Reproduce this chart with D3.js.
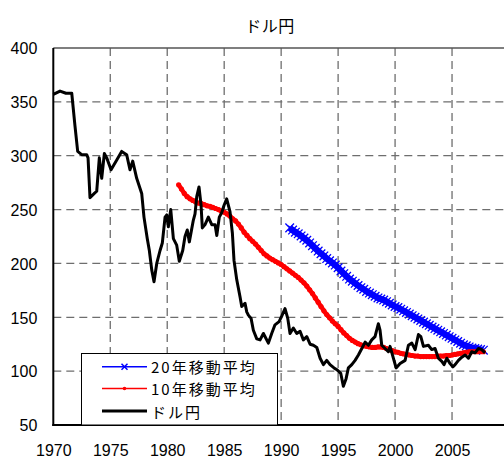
<!DOCTYPE html>
<html><head><meta charset="utf-8">
<script src="https://cdn.jsdelivr.net/npm/d3@7"></script>
<style>
html,body{margin:0;padding:0;background:#fff;overflow:hidden;}
svg{display:block;}
</style></head>
<body>
<svg id="chart" width="504" height="459"></svg>
<script>
// ---- data ----
const title = "ドル円";
const seriesNames = ["20年移動平均", "10年移動平均", "ドル円"];
const xTicks = [1970, 1975, 1980, 1985, 1990, 1995, 2000, 2005];
const yTicks = [50, 100, 150, 200, 250, 300, 350, 400];

// USD/JPY (decimal year, yen)
const usdJpyYears = [1970.0,1970.59,1971.11,1971.62,1971.9,1972.14,1972.49,1972.93,1973.05,1973.22,1973.6,1973.81,1974.04,1974.25,1974.48,1974.69,1975.07,1975.57,1976.0,1976.44,1976.73,1976.97,1977.32,1977.76,1977.96,1978.25,1978.43,1978.64,1978.84,1979.08,1979.37,1979.57,1979.81,1979.96,1980.1,1980.31,1980.54,1980.83,1981.06,1981.36,1981.56,1981.76,1981.94,1982.29,1982.44,1982.59,1982.79,1982.97,1983.08,1983.32,1983.61,1983.91,1984.2,1984.35,1984.57,1984.78,1984.99,1985.22,1985.51,1985.72,1985.86,1986.1,1986.39,1986.54,1986.83,1986.98,1987.12,1987.36,1987.56,1987.86,1988.15,1988.44,1988.59,1988.88,1989.17,1989.46,1989.82,1990.05,1990.34,1990.58,1990.78,1991.07,1991.37,1991.66,1991.95,1992.25,1992.54,1992.83,1993.13,1993.42,1993.71,1994.0,1994.29,1994.64,1994.93,1995.23,1995.46,1995.7,1995.9,1996.2,1996.49,1996.78,1997.08,1997.37,1997.66,1997.95,1998.24,1998.53,1998.68,1998.83,1999.12,1999.41,1999.56,1999.85,2000.09,2000.44,2000.88,2001.17,2001.47,2001.76,2002.05,2002.26,2002.49,2002.92,2003.22,2003.51,2003.8,2004.1,2004.3,2004.54,2004.83,2005.07,2005.27,2005.56,2005.86,2006.15,2006.44,2006.73,2007.02,2007.32,2007.61,2007.9];
const usdJpyValues = [357,360,358,358,328,304,301,301,298,261,265,267,298,279,302,298,287,296,304,301,287,295,279,265,243,223,212,194,183,200,212,219,243,245,234,250,223,217,202,212,225,231,220,240,246,262,271,254,233,236,243,236,236,226,243,247,254,260,248,228,203,185,169,160,163,155,152,149,138,130,129,135,132,126,135,143,146,151,158,149,135,140,135,137,129,132,125,124,122,112,106,110,106,103,101,98,86,93,103,106,110,115,121,127,124,129,132,144,138,124,121,118,123,112,103,107,110,124,126,120,134,132,123,124,120,121,112,109,106,112,107,104,106,110,113,115,112,118,117,121,120,117];

// 10-year moving average, quarterly from 1981.0
const ma10Start = 1981.0;
const ma10Values = [273,269,265,262,260,258.5,257,256,255.5,254.5,253.5,253,252,251,250,248.5,247.5,246,244,241.5,239.5,236.5,233,229,226,223,220.5,218,215,212,209,207,205,203.5,202,200.5,199,197,195,193,191,189,187,184.5,182,179,175.5,172,168,164,160,156,152.5,149.5,146.5,144,141.5,138.5,135.5,133,130.5,128.5,127,125.5,124.5,123.5,123,122.5,122,122,122.5,122.5,122,121,120,119,118,117.5,116.5,116,115.5,115,114.5,114,114,113.5,113.5,113.5,113.5,113.5,113.5,114,114,114,114.5,114.5,115,115.5,116,116.5,117,117.5,118,118,118,118,118,118];

// 20-year moving average, quarterly from 1990.75
const ma20Start = 1990.75;
const ma20Values = [233,231,229,227.5,225.5,223.5,221.5,219,216.5,214,211.5,209,207,204.5,202.5,200.5,198.5,196,193,190.5,188,185.5,183.5,181.5,179.5,177.5,176,174,172.5,171,169.5,168,167,166,164.5,163,161.5,160,159,157.5,156,154.5,153,151.5,150,148.5,147,145.5,144,142.5,141,139.5,138,136.5,135,133.5,132,130.5,129,127.5,126,124.5,123.5,122.5,121.5,121,120.5,120,119.5];
const maStep = 0.25;

// ---- layout ----
const svg = d3.select("#chart");
const x = d3.scaleLinear().domain([1970, 2010]).range([53.3, 509]);
const y = d3.scaleLinear().domain([50, 400]).range([425, 48]);
const fontNum = "'Liberation Sans', Arial, sans-serif";
const fontJp = "'Noto Sans CJK JP', sans-serif";

// title
svg.append("text").attr("x", 270).attr("y", 24.5).attr("text-anchor", "middle")
  .attr("dominant-baseline", "central").attr("font-family", fontJp).attr("font-size", 16)
  .attr("letter-spacing", 0.5).attr("fill", "#000").text(title);

// gridlines
const grid = svg.append("g").attr("stroke", "#6e6e6e").attr("stroke-width", 1.3)
  .attr("stroke-dasharray", "8,5");
grid.selectAll("line.v").data(xTicks.slice(1)).join("line").attr("class", "v")
  .attr("x1", d => x(d)).attr("x2", d => x(d)).attr("y1", y(400)).attr("y2", y(50));
grid.selectAll("line.h").data(yTicks.filter(d => d > 50 && d < 400)).join("line").attr("class", "h")
  .attr("x1", x(1970)).attr("x2", 504).attr("y1", d => y(d)).attr("y2", d => y(d));

// top frame
svg.append("line").attr("x1", x(1970)).attr("x2", 504).attr("y1", y(400)).attr("y2", y(400))
  .attr("stroke", "#555").attr("stroke-width", 1.3);

// axes
const yAxis = d3.axisLeft(y).tickValues(yTicks).tickSize(0).tickPadding(16);
const gy = svg.append("g").attr("transform", `translate(${x(1970)},0)`).call(yAxis);
gy.select(".domain").remove();
gy.selectAll("text").attr("font-family", fontNum).attr("font-size", 16).attr("fill", "#000").attr("dy", "0.36em");

const xAxis = d3.axisBottom(x).tickValues(xTicks).tickFormat(d3.format("d")).tickSize(0).tickPadding(20);
const gx = svg.append("g").attr("transform", `translate(0,${y(50)})`).call(xAxis);
gx.select(".domain").remove();
gx.selectAll("text").attr("font-family", fontNum).attr("font-size", 16).attr("fill", "#000").attr("dy", "0.71em");

svg.append("line").attr("x1", x(1970)).attr("x2", x(1970)).attr("y1", y(400)).attr("y2", y(50) + 1)
  .attr("stroke", "#000").attr("stroke-width", 2);
svg.append("line").attr("x1", x(1970) - 1).attr("x2", 504).attr("y1", y(50)).attr("y2", y(50))
  .attr("stroke", "#000").attr("stroke-width", 2);

// series data
const ma20 = ma20Values.map((v, i) => [ma20Start + i * maStep, v]);
const ma10 = ma10Values.map((v, i) => [ma10Start + i * maStep, v]);
const fx = usdJpyYears.map((t, i) => [t, usdJpyValues[i]]);
const line = d3.line().x(d => x(d[0])).y(d => y(d[1]));

// 20-year MA (blue, x markers)
svg.append("path").datum(ma20).attr("d", line).attr("fill", "none")
  .attr("stroke", "#0000ff").attr("stroke-width", 6.5).attr("stroke-linejoin", "round");
const xMark = (g, cx, cy, s, w) => g.append("path")
  .attr("d", `M${cx - s},${cy - s}L${cx + s},${cy + s}M${cx - s},${cy + s}L${cx + s},${cy - s}`)
  .attr("stroke", "#0000ff").attr("stroke-width", w).attr("fill", "none");
const gm20 = svg.append("g");
ma20.forEach(d => xMark(gm20, x(d[0]), y(d[1]), 4.3, 1.3));

// 10-year MA (red, dot markers)
svg.append("path").datum(ma10).attr("d", line).attr("fill", "none")
  .attr("stroke", "#ff0000").attr("stroke-width", 4.5).attr("stroke-linejoin", "round");
svg.append("g").selectAll("circle").data(ma10).join("circle")
  .attr("cx", d => x(d[0])).attr("cy", d => y(d[1])).attr("r", 2.6).attr("fill", "#ff0000");

// USD/JPY (black)
svg.append("path").datum(fx).attr("d", line).attr("fill", "none")
  .attr("stroke", "#000").attr("stroke-width", 3).attr("stroke-linejoin", "round");

// legend
const lg = svg.append("g");
lg.append("rect").attr("x", 81.5).attr("y", 353.5).attr("width", 196).attr("height", 71.5)
  .attr("fill", "#fff").attr("stroke", "#000").attr("stroke-width", 1);
const rows = [366.7, 388.5, 411];
// row 1
lg.append("line").attr("x1", 102).attr("x2", 147).attr("y1", rows[0]).attr("y2", rows[0])
  .attr("stroke", "#0000ff").attr("stroke-width", 1.5);
xMark(lg, 124.5, rows[0], 3, 1.5);
// row 2
lg.append("line").attr("x1", 102).attr("x2", 147).attr("y1", rows[1]).attr("y2", rows[1])
  .attr("stroke", "#ff0000").attr("stroke-width", 1.5);
lg.append("circle").attr("cx", 124.5).attr("cy", rows[1]).attr("r", 1.8).attr("fill", "#ff0000");
// row 3
lg.append("line").attr("x1", 102).attr("x2", 147).attr("y1", rows[2]).attr("y2", rows[2])
  .attr("stroke", "#000").attr("stroke-width", 3);
lg.selectAll("text").data(seriesNames).join("text")
  .attr("x", 151).attr("y", (d, i) => rows[i]).attr("dominant-baseline", "central")
  .attr("font-family", fontJp).attr("font-size", 15).attr("letter-spacing", 2)
  .attr("fill", "#000").text(d => d);
</script>
</body></html>
